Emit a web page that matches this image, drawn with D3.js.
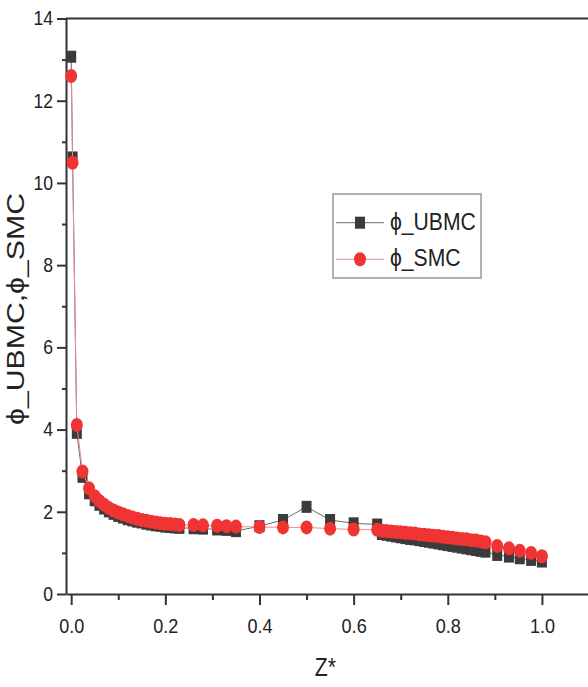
<!DOCTYPE html>
<html><head><meta charset="utf-8">
<script src="https://cdn.jsdelivr.net/npm/d3@7"></script>
<style>
body{margin:0;background:#fff}
svg{display:block}
text{font-family:"Liberation Sans",Arial,Helvetica,sans-serif;fill:#222}
</style>
</head><body>
<svg id="c" width="588" height="687"></svg>
<script>
// ---- data ----
const zStar = [0, 0.003, 0.012, 0.024, 0.038, 0.05, 0.06, 0.07, 0.08, 0.09, 0.10, 0.11, 0.12, 0.13, 0.14, 0.15, 0.16, 0.17, 0.18, 0.19, 0.20, 0.21, 0.22, 0.23,
  0.26, 0.28, 0.31, 0.33, 0.35, 0.40, 0.45, 0.50, 0.55, 0.60, 0.65,
  0.66, 0.67, 0.68, 0.69, 0.70, 0.71, 0.72, 0.73, 0.74, 0.75, 0.76, 0.77, 0.78, 0.79, 0.80, 0.81, 0.82, 0.83, 0.84, 0.85, 0.86, 0.87, 0.88,
  0.905, 0.93, 0.953, 0.977, 1.0];
const phiUBMC = [13.07, 10.62, 3.92, 2.85, 2.45, 2.28, 2.17, 2.08, 2.01, 1.95, 1.90, 1.86, 1.82, 1.79, 1.76, 1.74, 1.71, 1.69, 1.67, 1.66, 1.64, 1.63, 1.62, 1.61,
  1.60, 1.59, 1.57, 1.56, 1.53, 1.65, 1.80, 2.12, 1.80, 1.72, 1.69,
  1.46, 1.44, 1.42, 1.40, 1.38, 1.36, 1.34, 1.33, 1.31, 1.29, 1.27, 1.25, 1.23, 1.21, 1.19, 1.17, 1.15, 1.13, 1.11, 1.09, 1.07, 1.05, 1.03,
  0.95, 0.91, 0.87, 0.83, 0.79];
const phiSMC = [12.6, 10.49, 4.11, 2.98, 2.57, 2.38, 2.26, 2.17, 2.09, 2.03, 1.98, 1.94, 1.90, 1.86, 1.83, 1.80, 1.78, 1.76, 1.74, 1.72, 1.71, 1.70, 1.69, 1.68,
  1.68, 1.67, 1.66, 1.65, 1.64, 1.63, 1.62, 1.62, 1.59, 1.57, 1.56,
  1.54, 1.53, 1.52, 1.51, 1.50, 1.49, 1.48, 1.47, 1.45, 1.44, 1.43, 1.42, 1.41, 1.39, 1.38, 1.37, 1.35, 1.34, 1.33, 1.31, 1.30, 1.28, 1.26,
  1.17, 1.11, 1.05, 1.00, 0.92];
const seriesNames = ["\u03D5_UBMC", "\u03D5_SMC"];
const xTicks = [0, 0.2, 0.4, 0.6, 0.8, 1.0];
const xMinor = [0.1, 0.3, 0.5, 0.7, 0.9];
const yTicks = [0, 2, 4, 6, 8, 10, 12, 14];
const yMinor = [1, 3, 5, 7, 9, 11, 13];
const xTitle = "Z*";
const yTitle = "\u03D5_UBMC,\u03D5_SMC";

// ---- chart ----
const svg = d3.select("#c");
const x = d3.scaleLinear().domain([-0.011, 1.1]).range([66, 589]);
const y = d3.scaleLinear().domain([0, 14]).range([594, 18.5]);
const axisCol = "#333";

// top frame
svg.append("line").attr("x1", x.range()[0]).attr("x2", x.range()[1])
  .attr("y1", y(14)).attr("y2", y(14)).attr("stroke", axisCol).attr("stroke-width", 2);

// minor ticks
const gxm = svg.append("g").attr("transform", `translate(0,${y(0)})`)
  .call(d3.axisBottom(x).tickValues(xMinor).tickSize(6).tickSizeOuter(0).tickFormat(""));
gxm.select(".domain").remove();
const gym = svg.append("g").attr("transform", `translate(${x.range()[0]},0)`)
  .call(d3.axisLeft(y).tickValues(yMinor).tickSize(4).tickSizeOuter(0).tickFormat(""));
gym.select(".domain").remove();
[gxm, gym].forEach(g => g.selectAll("line").attr("stroke", axisCol).attr("stroke-width", 2));

// major axes
const gx = svg.append("g").attr("transform", `translate(0,${y(0)})`)
  .call(d3.axisBottom(x).tickValues(xTicks).tickSize(11).tickSizeOuter(0).tickPadding(13).tickFormat(d3.format(".1f")));
const gy = svg.append("g").attr("transform", `translate(${x.range()[0]},0)`)
  .call(d3.axisLeft(y).tickValues(yTicks).tickSize(9).tickSizeOuter(0).tickPadding(4).tickFormat(d3.format("d")));
[gx, gy].forEach(g => {
  g.select(".domain").attr("stroke", axisCol).attr("stroke-width", 2);
  g.selectAll("line").attr("stroke", axisCol).attr("stroke-width", 2);
  g.selectAll("text").attr("fill", "#222").attr("font-family", null);
});
gx.selectAll("text").attr("font-size", 21).attr("transform", "scale(0.86,1)");
gy.selectAll("text").attr("font-size", 20).each(function(){
  const t = d3.select(this); const tx = +t.attr("x");
  t.attr("x", 0).attr("transform", `translate(${tx},0) scale(0.88,1)`);
});

// titles
svg.append("text").attr("transform", `translate(${x(0.54)},676) scale(0.85,1)`)
  .attr("text-anchor", "middle").attr("font-size", 25).text(xTitle);
svg.append("text").attr("transform", `translate(24,309) rotate(-90)`)
  .attr("text-anchor", "middle").attr("font-size", 24)
  .attr("textLength", 232).attr("lengthAdjust", "spacingAndGlyphs").text(yTitle);

// series
const ptsU = zStar.map((z, i) => [z, phiUBMC[i]]);
const ptsS = zStar.map((z, i) => [z, phiSMC[i]]);
const line = d3.line().x(d => x(d[0])).y(d => y(d[1]));

svg.append("path").datum(ptsU).attr("d", line).attr("fill", "none")
  .attr("stroke", "#6a6a6a").attr("stroke-width", 1);
svg.append("g").selectAll("rect").data(ptsU).join("rect")
  .attr("x", d => x(d[0]) - 5).attr("y", d => y(d[1]) - 6)
  .attr("width", 10).attr("height", 12).attr("fill", "#3b3b3b");

svg.append("path").datum(ptsS).attr("d", line).attr("fill", "none")
  .attr("stroke", "#f08a8a").attr("stroke-width", 1);
svg.append("g").selectAll("ellipse").data(ptsS).join("ellipse")
  .attr("cx", d => x(d[0])).attr("cy", d => y(d[1]))
  .attr("rx", 6).attr("ry", 7).attr("fill", "#f03434");

// legend
const lg = svg.append("g");
lg.append("rect").attr("x", 333).attr("y", 194).attr("width", 148).attr("height", 84)
  .attr("fill", "#fff").attr("stroke", "#999").attr("stroke-width", 1.5);
const legendRows = [
  {name: seriesNames[0], y: 222.7, line: "#6a6a6a", kind: "sq"},
  {name: seriesNames[1], y: 259.3, line: "#f08a8a", kind: "ci"}
];
legendRows.forEach(r => {
  lg.append("line").attr("x1", 336).attr("x2", 384).attr("y1", r.y).attr("y2", r.y)
    .attr("stroke", r.line).attr("stroke-width", 1);
  if (r.kind === "sq") {
    lg.append("rect").attr("x", 360 - 5).attr("y", r.y - 6).attr("width", 10).attr("height", 12).attr("fill", "#3b3b3b");
  } else {
    lg.append("ellipse").attr("cx", 360).attr("cy", r.y).attr("rx", 6).attr("ry", 7).attr("fill", "#f03434");
  }
  lg.append("text").attr("transform", `translate(390,${r.y + 7}) scale(0.92,1)`)
    .attr("font-size", 23).text(r.name);
});
</script>
</body></html>
